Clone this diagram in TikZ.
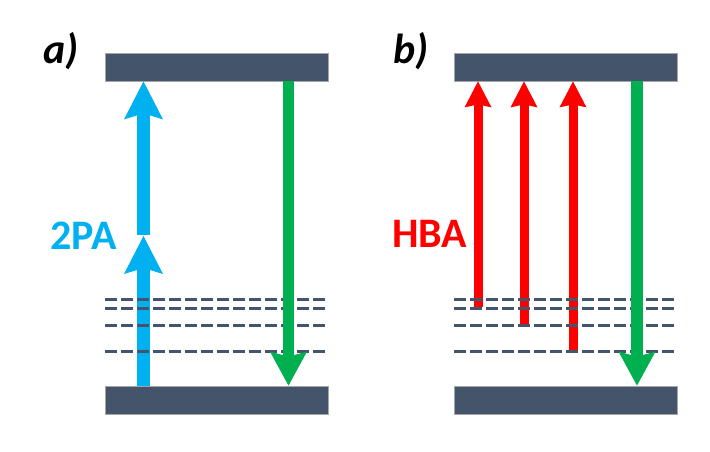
\documentclass[tikz,border=0pt]{standalone}
\usepackage{fontspec}
\setmainfont{Carlito}
\usepackage{tikz}
\usetikzlibrary{arrows.meta,calc,positioning}
\definecolor{levelgray}{HTML}{44546A}
\definecolor{tpablue}{HTML}{00B0F0}
\definecolor{emitgreen}{HTML}{00B050}
\definecolor{hbared}{HTML}{FF0000}

\begin{document}
\begin{tikzpicture}[x=1pt,y=-1pt,
  level/.style={draw=gray!70,line width=0.8pt,fill=levelgray,minimum width=223pt,minimum height=28pt,inner sep=0pt},
  virtual/.style={levelgray,line width=3.5pt,dash pattern=on 12pt off 4pt},
  tpa/.style={tpablue,line width=12.7pt,-{Stealth[length=38pt,width=39pt,inset=6pt,line width=0pt]}},
  emit/.style={emitgreen,line width=11.5pt,-{Stealth[length=34pt,width=37pt,inset=5pt,line width=0pt]}},
  hba/.style={hbared,line width=9pt,-{Stealth[length=26pt,width=27pt,inset=3pt,line width=0pt]}},
  tag/.style={anchor=base west,inner sep=0pt,font=\fontsize{42}{42}\selectfont\bfseries}]
\useasboundingbox (0,0) rectangle (710,451);
\node[level] (a top) at (216.5,67) {};
\node[level] (a bot) at (216.5,400) {};
\node[level] (b top) at (566,67) {};
\node[level] (b bot) at (566,400) {};
% a) two photon
\coordinate (a mid) at (143.5,236);
\coordinate (a em) at (288.5,200);
\draw[tpa] (a mid |- a bot.north) -- (a mid);
\draw[tpa] ([yshift=1pt]a mid) -- (a mid |- a top.south);
% b) hot band
\coordinate (b h1) at (478,307);
\coordinate (b h2) at (524,325);
\coordinate (b h3) at (573,351);
\coordinate (b em) at (637,200);
\foreach \h in {b h1,b h2,b h3}
  \draw[hba] (\h) -- (\h |- b top.south);
% virtual levels
\foreach \y in {299.7,308.7,325.7,351.3} {
  \draw[virtual] (105,\y) -- (325,\y);
  \draw[virtual] (454,\y) -- (674,\y);
}
% emission
\draw[emit] (a em |- a top.south) -- (a em |- a bot.north);
\draw[emit] (b em |- b top.south) -- (b em |- b bot.north);
% labels
\node[tag,font=\fontsize{42}{42}\selectfont\bfseries\itshape] (a lab) at (43,63) {a)};
\node[tag,font=\fontsize{42}{42}\selectfont\bfseries\itshape] (b lab) at (393,63) {b)};
\node[tag,tpablue] (tpa lab) at (50,249) {2PA};
\node[tag,hbared] (hba lab) at (392,247) {HBA};
\end{tikzpicture}
\end{document}
